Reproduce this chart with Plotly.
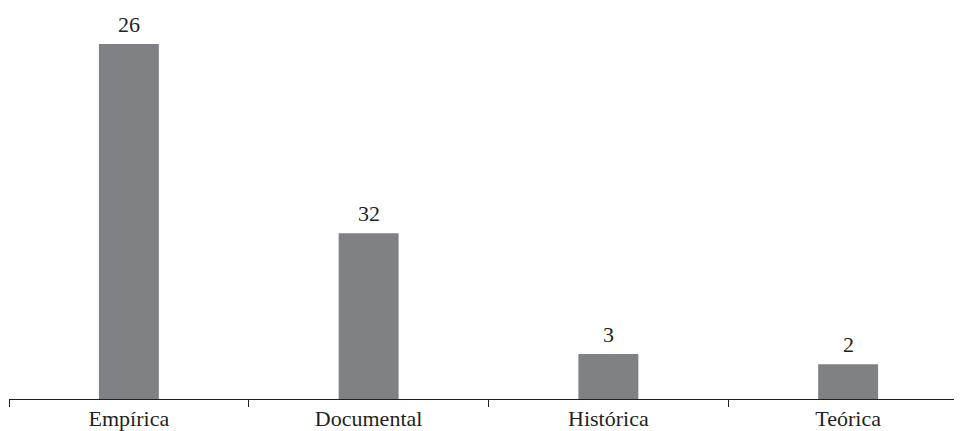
import plotly.graph_objects as go

categories = ["Empírica", "Documental", "Histórica", "Teórica"]
bar_values = [59.1, 27.6, 7.5, 5.8]
value_labels = ["26", "32", "3", "2"]

font_family = "Liberation Serif"
text_color = "#231f20"
bar_color = "#808185"

fig = go.Figure()
fig.add_trace(go.Bar(
    x=categories,
    y=bar_values,
    width=0.25,
    marker=dict(color=bar_color, line=dict(width=0)),
    hoverinfo="skip",
))

for c, v, lab in zip(categories, bar_values, value_labels):
    fig.add_annotation(
        x=c, y=v, text=lab, showarrow=False,
        xref="x", yref="y", yanchor="bottom", yshift=5,
        font=dict(family=font_family, size=22, color=text_color),
    )

fig.update_layout(
    width=954, height=423,
    margin=dict(l=1, r=0, t=0, b=32),
    paper_bgcolor="white", plot_bgcolor="white",
    showlegend=False,
    xaxis=dict(
        type="category",
        range=[-0.5, 3.475],
        tickson="boundaries",
        ticks="outside", ticklen=7, tickwidth=1, tickcolor=text_color,
        showline=True, linecolor=text_color, linewidth=1,
        showgrid=False, zeroline=False,
        tickfont=dict(family=font_family, size=22, color=text_color),
        fixedrange=True,
    ),
    yaxis=dict(
        range=[0, 59.1 * 391 / 355],
        visible=False, showgrid=False, zeroline=False,
        fixedrange=True,
    ),
)

fig.write_html("out.html", config={"displayModeBar": False})
